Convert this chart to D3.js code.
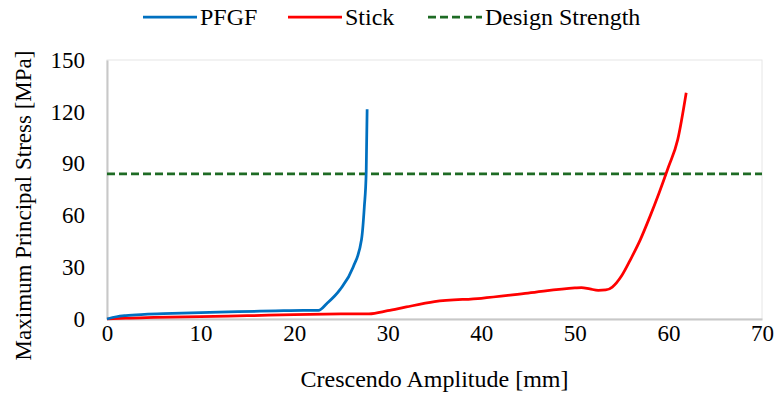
<!DOCTYPE html>
<html>
<head>
<meta charset="utf-8">
<script src="https://cdn.jsdelivr.net/npm/d3@7"></script>
<style>
  body { margin: 0; background: #fff; }
  text { font-family: "Liberation Serif", "Times New Roman", serif; fill: #000; }
</style>
</head>
<body>
<div id="chart"></div>
<script>
const width = 776;
const height = 396;
const margin = {top: 60, right: 14, bottom: 77, left: 107};

// series: amplitude [mm] vs stress [MPa]
const pfgfX = [0, 1, 2, 4, 7, 10, 14, 18, 21, 22.6, 23.5, 24.9, 26.3, 27.2, 27.5, 27.7, 27.8];
const pfgfY = [0, 1.3, 2, 2.7, 3.2, 3.7, 4.2, 4.7, 5, 5, 9, 17, 30, 46, 65, 85, 121.5];

const stickX = [0, 2, 5, 10, 15, 20, 25, 28, 30, 32, 35, 40, 45, 50, 50.7, 51.6, 52.5, 53.3, 54, 55, 56, 57, 58, 59, 60, 61, 61.9];
const stickY = [0, 0.5, 0.9, 1.4, 1.9, 2.5, 2.9, 3, 4.8, 7, 10, 12, 15, 18, 18.2, 17.4, 16.6, 16.8, 18.5, 25, 35, 46, 59, 73, 88, 104, 131];

const designStrength = 84;

const xTicks = [0, 10, 20, 30, 40, 50, 60, 70];
const yTicks = [0, 30, 60, 90, 120, 150];

const legendNames = ["PFGF", "Stick", "Design Strength"];
const colors = ["#0070C0", "#FF0000", "#1E6B24"];

const svg = d3.select("#chart").append("svg")
    .attr("width", width)
    .attr("height", height);

const x = d3.scaleLinear().domain([0, 70]).range([margin.left, width - margin.right]);
const y = d3.scaleLinear().domain([0, 150]).range([height - margin.bottom, margin.top]);

// faint plot border
svg.append("rect")
    .attr("x", x(0)).attr("y", y(150))
    .attr("width", x(70) - x(0)).attr("height", y(0) - y(150))
    .attr("fill", "none")
    .attr("stroke", "#e6e6e6")
    .attr("stroke-width", 1);

// axes
const xAxis = svg.append("g")
    .attr("transform", `translate(0,${y(0)})`)
    .call(d3.axisBottom(x).tickValues(xTicks).tickSize(0).tickPadding(6));
const yAxis = svg.append("g")
    .attr("transform", `translate(${x(0)},0)`)
    .call(d3.axisLeft(y).tickValues(yTicks).tickSize(0).tickPadding(22));

[xAxis, yAxis].forEach(g => {
    g.attr("font-family", "Liberation Serif");
    g.select(".domain").attr("stroke", "#c8c8c8").attr("stroke-width", 2);
    g.selectAll("text").attr("font-size", 23);
});

// design strength
svg.append("line")
    .attr("x1", x(0)).attr("x2", x(70))
    .attr("y1", y(designStrength)).attr("y2", y(designStrength))
    .attr("stroke", colors[2])
    .attr("stroke-width", 2.75)
    .attr("stroke-dasharray", "8,4");

const line = d3.line()
    .x(d => x(d[0]))
    .y(d => y(d[1]))
    .curve(d3.curveMonotoneX);

const pfgf = pfgfX.map((v, i) => [v, pfgfY[i]]);
const stick = stickX.map((v, i) => [v, stickY[i]]);

svg.append("path")
    .datum(stick)
    .attr("d", line)
    .attr("fill", "none")
    .attr("stroke", colors[1])
    .attr("stroke-width", 2.75);

svg.append("path")
    .datum(pfgf)
    .attr("d", line)
    .attr("fill", "none")
    .attr("stroke", colors[0])
    .attr("stroke-width", 2.75);

// axis titles
svg.append("text")
    .attr("x", (x(0) + x(70)) / 2)
    .attr("y", 387)
    .attr("text-anchor", "middle")
    .attr("font-size", 24)
    .text("Crescendo Amplitude [mm]");

svg.append("text")
    .attr("transform", `translate(31,${(y(0) + y(150)) / 2 + 16}) rotate(-90)`)
    .attr("text-anchor", "middle")
    .attr("font-size", 23)
    .text("Maximum Principal Stress [MPa]");

// legend
const legendX = [143, 288, 428];
const legend = svg.append("g");
legendNames.forEach((name, i) => {
    legend.append("line")
        .attr("x1", legendX[i]).attr("x2", legendX[i] + 54)
        .attr("y1", 17).attr("y2", 17)
        .attr("stroke", colors[i])
        .attr("stroke-width", 2.75)
        .attr("stroke-dasharray", i === 2 ? "8,4" : null);
    legend.append("text")
        .attr("x", legendX[i] + 57)
        .attr("y", 25)
        .attr("font-size", 24)
        .text(name);
});
</script>
</body>
</html>
